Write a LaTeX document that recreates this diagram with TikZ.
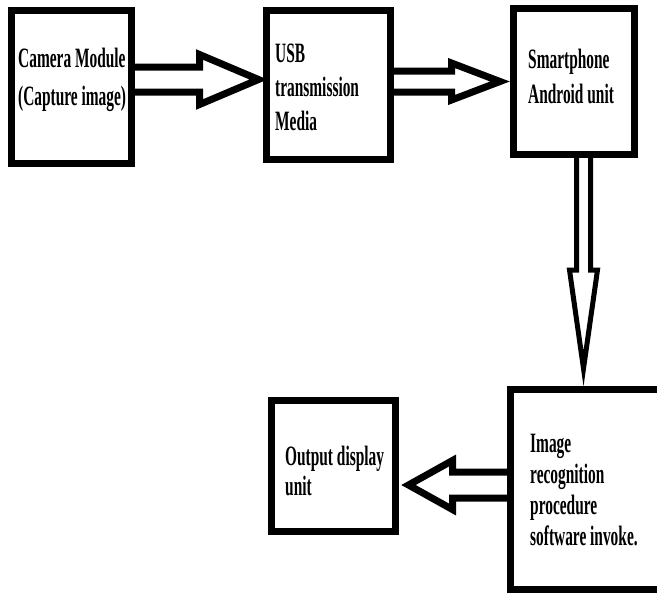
\documentclass[tikz,border=0pt]{standalone}
\usepackage{fontspec}
\setmainfont{Liberation Serif}[FakeStretch=0.55]
\usetikzlibrary{calc}

\tikzset{
  blk/.style={draw, line width=7pt, inner sep=0pt, outer sep=0pt},
  lbl/.style={anchor=base west, align=left, inner sep=0pt},
  pipe/.style={line width=7pt, miter limit=20},
}

\begin{document}
\begin{tikzpicture}[x=1pt,y=-1pt]
\useasboundingbox (0,0) rectangle (657,595);
\clip (0,0) rectangle (657,595);

\node[blk, minimum width=120pt, minimum height=153pt] (cam) at (71.5,87) {};
\node[blk, minimum width=124pt, minimum height=149pt] (usb) at (328.5,85) {};
\node[blk, minimum width=121pt, minimum height=146pt] (phone) at (574,81.5) {};
\node[blk, minimum width=151pt, minimum height=200pt] (recog) at (586,489.5) {};
\node[blk, minimum width=124pt, minimum height=131pt] (disp) at (333.5,466) {};

\node[lbl, font=\bfseries\fontsize{28}{38}\selectfont] (camtxt) at (18,105) {Camera Module\\(Capture image)};
\node[lbl, font=\bfseries\fontsize{28}{34}\selectfont] (usbtxt) at (275,130) {USB\\transmission\\Media};
\node[lbl, font=\bfseries\fontsize{28}{35}\selectfont] (phonetxt) at (528,103) {Smartphone\\Android unit};
\node[lbl, font=\bfseries\fontsize{28}{31}\selectfont] (recogtxt) at (530,545) {Image\\recognition\\procedure\\software invoke.};
\node[lbl, font=\bfseries\fontsize{28}{30}\selectfont] (disptxt) at (285,495) {Output display\\unit};

\coordinate (t1) at ($(usb.west)+(-8,-5.5)$);
\draw[pipe] ($(cam.east|-t1)+(0,-12.5)$) -- ($(t1)+(-59,-12.5)$) -- ($(t1)+(-59,-25)$) -- (t1)
  -- ($(t1)+(-59,25)$) -- ($(t1)+(-59,12.5)$) -- ($(cam.east|-t1)+(0,12.5)$);

\coordinate (t2) at ($(phone.west)+(-13.5,0)$);
\draw[pipe] ($(usb.east|-t2)+(0,-10.5)$) -- ($(t2)+(-48.5,-10.5)$) -- ($(t2)+(-48.5,-18.5)$) -- (t2)
  -- ($(t2)+(-48.5,18.5)$) -- ($(t2)+(-48.5,10.5)$) -- ($(usb.east|-t2)+(0,10.5)$);

\coordinate (t3) at ($(recog.north)+(-2.5,-21)$);
\draw[pipe, line width=5pt] ($(t3|-phone.south)+(-7,0)$) -- ($(t3)+(-7,-98.5)$) -- ($(t3)+(-14,-98.5)$) -- (t3)
  -- ($(t3)+(14,-98.5)$) -- ($(t3)+(7,-98.5)$) -- ($(t3|-phone.south)+(7,0)$);

\coordinate (t4) at ($(disp.east)+(13,19)$);
\draw[pipe] ($(recog.west|-t4)+(0,-13)$) -- ($(t4)+(44,-13)$) -- ($(t4)+(44,-24.5)$) -- (t4)
  -- ($(t4)+(44,24.5)$) -- ($(t4)+(44,13)$) -- ($(recog.west|-t4)+(0,13)$);
\end{tikzpicture}
\end{document}
